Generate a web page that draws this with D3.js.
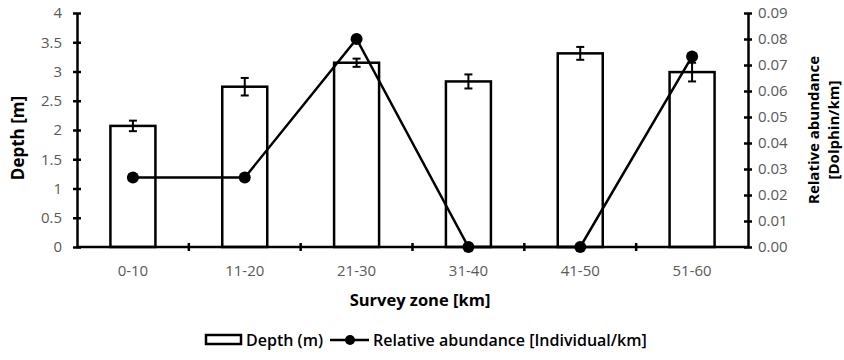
<!DOCTYPE html>
<html><head><meta charset="utf-8">
<script src="https://cdn.jsdelivr.net/npm/d3@7"></script>
<style>body{margin:0;background:#fff}svg{display:block}</style>
</head><body><svg id="c" width="844" height="360"></svg>
<script>
const zones = ["0-10","11-20","21-30","31-40","41-50","51-60"];
const depth = [2.07, 2.74, 3.15, 2.83, 3.31, 2.99];
const depthErr = [0.09, 0.15, 0.07, 0.12, 0.11, 0.16];
const abundance = [0.0267, 0.0267, 0.08, 0, 0, 0.0733];
const leftTicks = [0,0.5,1,1.5,2,2.5,3,3.5,4];
const rightTicks = [0,0.01,0.02,0.03,0.04,0.05,0.06,0.07,0.08,0.09];

const svg = d3.select("#c");
const L = 77, R = 748, T = 13, B = 247;
const font = "'Open Sans', 'Liberation Sans', sans-serif";
const xb = d3.scaleBand().domain(zones).range([L, R]);
const yL = d3.scaleLinear().domain([0,4]).range([B, T]);
const yR = d3.scaleLinear().domain([0,0.09]).range([B, T]);

// bars
svg.append("g").selectAll("rect").data(zones).join("rect")
  .attr("x", d => xb(d) + xb.bandwidth()/2 - 22.5)
  .attr("width", 45)
  .attr("y", (d,i) => yL(depth[i]))
  .attr("height", (d,i) => B - yL(depth[i]))
  .attr("fill", "#fff").attr("stroke", "#000").attr("stroke-width", 2.5);

// error bars
const eg = svg.append("g").attr("stroke", "#000").attr("stroke-width", 2);
zones.forEach((z,i) => {
  const cx = xb(z) + xb.bandwidth()/2;
  const y1 = yL(depth[i] + depthErr[i]), y2 = yL(depth[i] - depthErr[i]);
  eg.append("line").attr("x1", cx).attr("x2", cx).attr("y1", y1).attr("y2", y2);
  eg.append("line").attr("x1", cx-4).attr("x2", cx+4).attr("y1", y1).attr("y2", y1);
  eg.append("line").attr("x1", cx-4).attr("x2", cx+4).attr("y1", y2).attr("y2", y2);
});

// axes
function styleAxis(g){
  g.select(".domain").attr("stroke","#000").attr("stroke-width",2.5);
  g.selectAll(".tick line").attr("stroke","#000").attr("stroke-width",2.5);
  g.selectAll(".tick text").attr("fill","#595959").attr("font-family",font).attr("font-size",15);
}
const gl = svg.append("g").attr("transform",`translate(${L},0)`)
  .call(d3.axisLeft(yL).tickValues(leftTicks).tickSize(4).tickSizeOuter(0).tickPadding(11).tickFormat(d3.format("")));
styleAxis(gl);
gl.selectAll(".tick line").attr("x1",4).attr("x2",-4);

const gr = svg.append("g").attr("transform",`translate(${R},0)`)
  .call(d3.axisRight(yR).tickValues(rightTicks).tickSize(4).tickSizeOuter(0).tickPadding(6).tickFormat(d3.format(".2f")));
styleAxis(gr);
gr.selectAll(".tick line").attr("x1",-4).attr("x2",4);

const gx = svg.append("g").attr("transform",`translate(0,${B})`)
  .call(d3.axisBottom(xb).tickSize(0).tickPadding(18));
styleAxis(gx);
gx.select(".domain").attr("d", `M${L},0H${R}`);
// band boundary ticks
svg.append("g").selectAll("line").data(zones.slice(1)).join("line")
  .attr("x1", d => xb(d)).attr("x2", d => xb(d)).attr("y1", B-4).attr("y2", B+4)
  .attr("stroke","#000").attr("stroke-width",2.5);

// line
const line = d3.line().x((d,i) => xb(zones[i]) + xb.bandwidth()/2).y(d => yR(d));
svg.append("path").datum(abundance).attr("d", line)
  .attr("fill","none").attr("stroke","#000").attr("stroke-width",2.5);
svg.append("g").selectAll("circle").data(abundance).join("circle")
  .attr("cx", (d,i) => xb(zones[i]) + xb.bandwidth()/2).attr("cy", d => yR(d))
  .attr("r", 6).attr("fill","#000");

// titles
svg.append("text").attr("x", 420).attr("y", 306).attr("text-anchor","middle")
  .attr("font-family",font).attr("font-size",16.5).attr("font-weight","bold").text("Survey zone [km]");
svg.append("text").attr("transform","translate(24,138) rotate(-90)").attr("text-anchor","middle")
  .attr("font-family",font).attr("font-size",17).attr("font-weight","bold").text("Depth [m]");
svg.append("text").attr("transform","translate(819,130) rotate(-90)").attr("text-anchor","middle")
  .attr("font-family",font).attr("font-size",15).attr("font-weight","bold").text("Relative abundance");
svg.append("text").attr("transform","translate(839,130) rotate(-90)").attr("text-anchor","middle")
  .attr("font-family",font).attr("font-size",15).attr("font-weight","bold").text("[Dolphin/km]");

// legend
const lg = svg.append("g");
lg.append("rect").attr("x",206).attr("y",335).attr("width",35).attr("height",9)
  .attr("fill","#fff").attr("stroke","#000").attr("stroke-width",2.5);
lg.append("text").attr("x",246).attr("y",346).attr("font-family",font).attr("font-size",16).attr("font-weight","600").text("Depth (m)");
lg.append("line").attr("x1",330).attr("x2",369).attr("y1",340).attr("y2",340).attr("stroke","#000").attr("stroke-width",2.5);
lg.append("circle").attr("cx",350).attr("cy",340).attr("r",5).attr("fill","#000");
lg.append("text").attr("x",373).attr("y",346).attr("font-family",font).attr("font-size",16).attr("font-weight","600").text("Relative abundance  [Individual/km]");
</script></body></html>
